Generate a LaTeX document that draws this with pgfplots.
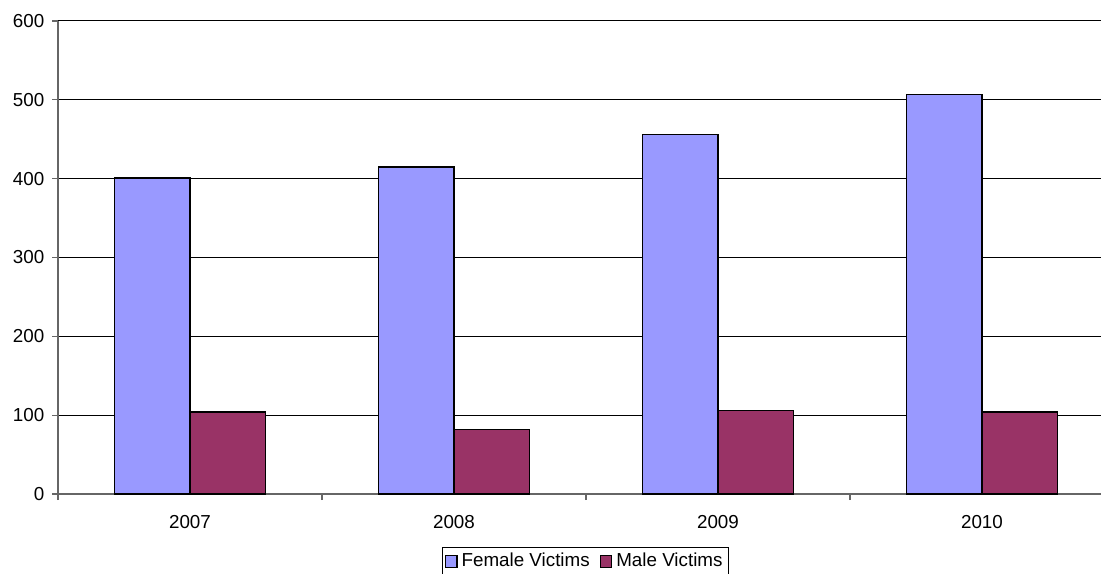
\documentclass[border=0pt]{standalone}
\usepackage{fontspec}
\setmainfont{Liberation Sans}
\usepackage{pgfplots}
\pgfplotsset{compat=1.18}
\definecolor{femc}{HTML}{9999FF}
\definecolor{malec}{HTML}{993366}
\begin{document}
\fontsize{9.4}{11}\selectfont
\begin{tikzpicture}
\begin{axis}[
  at={(0,0)}, anchor=south west,
  scale only axis,
  width=521.5pt, height=236.5pt,
  xmin=-0.5, xmax=3.4508,
  ymin=0, ymax=600,
  ybar=0pt, bar width=37.75pt,
  axis x line*=bottom, axis y line*=left,
  axis line style={gray!80!black, line width=0.6pt},
  xtick={0,1,2,3},
  xticklabels={2007,2008,2009,2010},
  major x tick style={draw=none},
  minor xtick={-0.5,0.5,1.5,2.5},
  minor x tick style={gray!80!black, line width=0.6pt},
  minor tick length=3pt,
  ytick={0,100,...,600},
  major tick length=3pt,
  y tick style={gray!80!black, line width=0.6pt},
  tick align=outside,
  ymajorgrids,
  major grid style={black, line width=0.5pt},
  /pgf/number format/assume math mode=true,
  ticklabel style={font=\fontsize{9.4}{11}\selectfont},
  xticklabel style={yshift=-4.5pt},
  yticklabel style={xshift=-0.5pt},
  legend style={at={(0.506,-0.1427)}, anchor=center, legend columns=2,
    draw=black, line width=0.5pt, font=\fontsize{9.4}{11}\selectfont,
    inner sep=1pt, /tikz/every even column/.append style={column sep=3pt}},
  legend image code/.code={\draw[#1, draw=black, line width=0.6pt] (0cm,-0.1cm) rectangle (0.2cm,0.1cm);},
]
\addplot[fill=femc, draw=black, line width=0.75pt] coordinates {(0,401) (1,415) (2,456) (3,507)};
\addplot[fill=malec, draw=black, line width=0.75pt] coordinates {(0,104) (1,82) (2,106) (3,104)};
\legend{Female Victims, Male Victims}
\end{axis}
\pgfresetboundingbox
\useasboundingbox (-29pt,-39.5pt) rectangle (521.5pt,247pt);
\end{tikzpicture}
\end{document}
